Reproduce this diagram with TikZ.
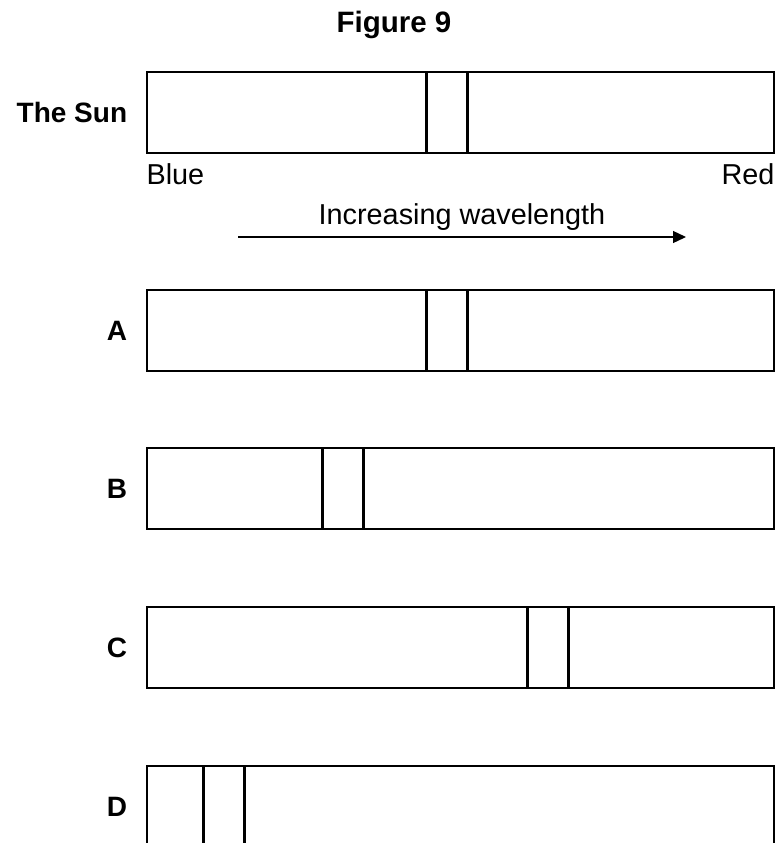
\documentclass[tikz,border=0pt]{standalone}
\usepackage{fontspec}
\setmainfont{Liberation Sans}
\usetikzlibrary{arrows.meta, positioning}

\begin{document}
\begin{tikzpicture}[x=1pt, y=-1pt, >=Triangle, font=\fontsize{28.8}{34}\selectfont]
				\useasboundingbox (0,0) rectangle (778,843);
				\node[font=\fontsize{29.5}{35}\selectfont\bfseries] (title) at (394, 25) {Figure 9};
				
				% spectra: name / label / centre y / two dark lines
				\foreach \name/\lbl/\yy/\xa/\xb in {sun/The Sun/112.5/426/467, specA/A/330.5/426/467, specB/B/488.5/322/363, specC/C/647.5/527/568, specD/D/806.5/203/244} {
					\node[draw, rectangle, line width=1.3pt, minimum width=627pt, minimum height=81pt, inner sep=0pt, fill=white] (\name) at (460.5, \yy) {};
					\node[left=19pt of \name, inner sep=0pt, font=\fontsize{28}{33}\selectfont\bfseries] (\name lbl) {\lbl};
					\draw[line width=3pt] (\xa, {\yy-40.5}) -- (\xa, {\yy+40.5});
					\draw[line width=3pt] (\xb, {\yy-40.5}) -- (\xb, {\yy+40.5});
				}
				
				\node[below right=10pt and 0pt of sun.south west, inner sep=0pt] (blue) {Blue};
				\node[below left=10pt and 0pt of sun.south east, inner sep=0pt] (red) {Red};
				
				\coordinate (wstart) at (238, 237);
				\coordinate (wend) at (686, 237);
				\draw[->, line width=1.3pt, >={Triangle[length=13pt, width=12pt]}] (wstart) -- (wend) node[midway, above=6pt, inner sep=0pt] (wlabel) {Increasing wavelength};
			\end{tikzpicture}
\end{document}
